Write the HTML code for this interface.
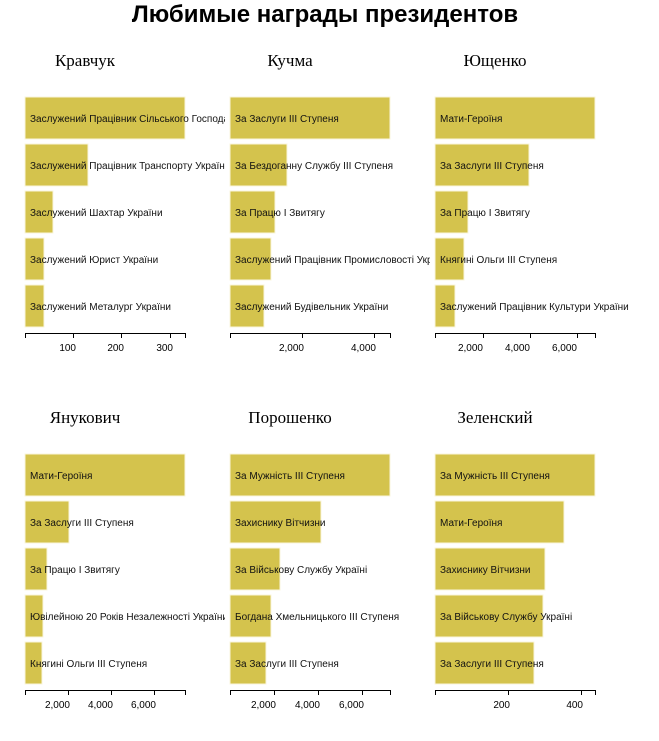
<!DOCTYPE html>
<html><head><meta charset="utf-8"><style>
body{margin:0;background:#fff;}
svg text{font-family:"Liberation Sans",sans-serif;}
.t{font-family:"Liberation Serif",serif;font-size:17px;text-anchor:middle;fill:#000}
.l{font-size:10px;fill:#111}
.k{font-size:10px;fill:#000;text-anchor:end}
rect.b{fill:#d4c34d;stroke:#faf6dc;stroke-width:1}
</style></head><body>
<svg width="659" height="736" xmlns="http://www.w3.org/2000/svg">
<text x="325" y="22" text-anchor="middle" style="font-size:24px;font-weight:bold">Любимые награды президентов</text>
<defs>
<clipPath id="c1"><rect x="0" y="0" width="225" height="736"/></clipPath>
<clipPath id="c2"><rect x="225" y="0" width="205" height="736"/></clipPath>
<clipPath id="c3"><rect x="430" y="0" width="229" height="736"/></clipPath>
</defs>
<g id="top">
<text class="t" x="85" y="66">Кравчук</text>
<text class="t" x="290" y="66">Кучма</text>
<text class="t" x="495" y="66">Ющенко</text>
<text class="t" x="85" y="423">Янукович</text>
<text class="t" x="290" y="423">Порошенко</text>
<text class="t" x="495" y="423">Зеленский</text>
</g>
<g clip-path="url(#c1)">
<rect class="b" x="25" y="97" width="160" height="42"/>
<rect class="b" x="25" y="144" width="63" height="42"/>
<rect class="b" x="25" y="191" width="28" height="42"/>
<rect class="b" x="25" y="238" width="19" height="42"/>
<rect class="b" x="25" y="285" width="19" height="42"/>
<text class="l" x="30" y="122">Заслужений Працівник Сільського Господарства</text>
<text class="l" x="30" y="169">Заслужений Працівник Транспорту України</text>
<text class="l" x="30" y="216">Заслужений Шахтар України</text>
<text class="l" x="30" y="263">Заслужений Юрист України</text>
<text class="l" x="30" y="310">Заслужений Металург України</text>
<rect class="b" x="25" y="454" width="160" height="42"/>
<rect class="b" x="25" y="501" width="44" height="42"/>
<rect class="b" x="25" y="548" width="22" height="42"/>
<rect class="b" x="25" y="595" width="18" height="42"/>
<rect class="b" x="25" y="642" width="17" height="42"/>
<text class="l" x="30" y="479">Мати-Героїня</text>
<text class="l" x="30" y="526">За Заслуги III Ступеня</text>
<text class="l" x="30" y="573">За Працю І Звитягу</text>
<text class="l" x="30" y="620">Ювілейною 20 Років Незалежності України</text>
<text class="l" x="30" y="667">Княгині Ольги III Ступеня</text>
</g>
<g clip-path="url(#c2)">
<rect class="b" x="230" y="97" width="160" height="42"/>
<rect class="b" x="230" y="144" width="57" height="42"/>
<rect class="b" x="230" y="191" width="45" height="42"/>
<rect class="b" x="230" y="238" width="41" height="42"/>
<rect class="b" x="230" y="285" width="34" height="42"/>
<text class="l" x="235" y="122">За Заслуги III Ступеня</text>
<text class="l" x="235" y="169">За Бездоганну Службу III Ступеня</text>
<text class="l" x="235" y="216">За Працю І Звитягу</text>
<text class="l" x="235" y="263">Заслужений Працівник Промисловості України</text>
<text class="l" x="235" y="310">Заслужений Будівельник України</text>
<rect class="b" x="230" y="454" width="160" height="42"/>
<rect class="b" x="230" y="501" width="91" height="42"/>
<rect class="b" x="230" y="548" width="50" height="42"/>
<rect class="b" x="230" y="595" width="41" height="42"/>
<rect class="b" x="230" y="642" width="36" height="42"/>
<text class="l" x="235" y="479">За Мужність III Ступеня</text>
<text class="l" x="235" y="526">Захиснику Вітчизни</text>
<text class="l" x="235" y="573">За Військову Службу Україні</text>
<text class="l" x="235" y="620">Богдана Хмельницького III Ступеня</text>
<text class="l" x="235" y="667">За Заслуги III Ступеня</text>
</g>
<g clip-path="url(#c3)">
<rect class="b" x="435" y="97" width="160" height="42"/>
<rect class="b" x="435" y="144" width="94" height="42"/>
<rect class="b" x="435" y="191" width="33" height="42"/>
<rect class="b" x="435" y="238" width="29" height="42"/>
<rect class="b" x="435" y="285" width="20" height="42"/>
<text class="l" x="440" y="122">Мати-Героїня</text>
<text class="l" x="440" y="169">За Заслуги III Ступеня</text>
<text class="l" x="440" y="216">За Працю І Звитягу</text>
<text class="l" x="440" y="263">Княгині Ольги III Ступеня</text>
<text class="l" x="440" y="310">Заслужений Працівник Культури України</text>
<rect class="b" x="435" y="454" width="160" height="42"/>
<rect class="b" x="435" y="501" width="129" height="42"/>
<rect class="b" x="435" y="548" width="110" height="42"/>
<rect class="b" x="435" y="595" width="108" height="42"/>
<rect class="b" x="435" y="642" width="99" height="42"/>
<text class="l" x="440" y="479">За Мужність III Ступеня</text>
<text class="l" x="440" y="526">Мати-Героїня</text>
<text class="l" x="440" y="573">Захиснику Вітчизни</text>
<text class="l" x="440" y="620">За Військову Службу Україні</text>
<text class="l" x="440" y="667">За Заслуги III Ступеня</text>
</g>
<g stroke="#000" stroke-width="1" fill="none">
<path d="M25.5,338V333.5H185.5V338M73.5,333.5V338M121.5,333.5V338M170.5,333.5V338"/>
<path d="M230.5,338V333.5H390.5V338M302.5,333.5V338M374.5,333.5V338"/>
<path d="M435.5,338V333.5H595.5V338M483.5,333.5V338M530.5,333.5V338M577.5,333.5V338"/>
<path d="M25.5,695V690.5H185.5V695M68.5,690.5V695M111.5,690.5V695M154.5,690.5V695"/>
<path d="M230.5,695V690.5H390.5V695M274.5,690.5V695M318.5,690.5V695M362.5,690.5V695"/>
<path d="M435.5,695V690.5H595.5V695M508.5,690.5V695M581.5,690.5V695"/>
</g>
<text class="k" x="76" y="351">100</text><text class="k" x="124" y="351">200</text><text class="k" x="173" y="351">300</text>
<text class="k" x="304" y="351">2,000</text><text class="k" x="376" y="351">4,000</text>
<text class="k" x="483" y="351">2,000</text><text class="k" x="530" y="351">4,000</text><text class="k" x="577" y="351">6,000</text>
<text class="k" x="70" y="708">2,000</text><text class="k" x="113" y="708">4,000</text><text class="k" x="156" y="708">6,000</text>
<text class="k" x="276" y="708">2,000</text><text class="k" x="320" y="708">4,000</text><text class="k" x="364" y="708">6,000</text>
<text class="k" x="510" y="708">200</text><text class="k" x="583" y="708">400</text>
</svg>
</body></html>
